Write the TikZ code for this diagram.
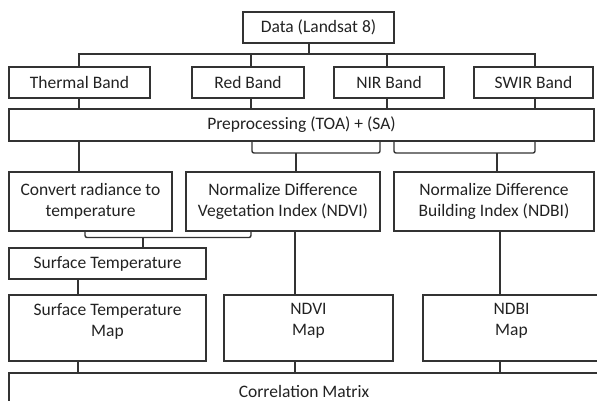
\documentclass[tikz,border=0pt]{standalone}
\usepackage{fontspec}
\setmainfont{Carlito}
\definecolor{linec}{HTML}{333333}
\definecolor{txt}{HTML}{222222}
\begin{document}
\begin{tikzpicture}[x=1pt,y=-1pt,
  box/.style={draw=linec, line width=1.4pt, text=txt, font=\fontsize{17.5}{21}\selectfont, align=center, inner sep=0pt, minimum height=31pt},
  conn/.style={draw=linec, line width=1.4pt},
  brk/.style={conn, rounded corners=2pt}]
\path[use as bounding box, clip] (0,0) rectangle (597,400);
% x positions and levels
\coordinate (a78) at (78,0);
\coordinate (a79) at (79,0);
\coordinate (a85) at (85,0);
\coordinate (a143) at (143,0);
\coordinate (a251) at (251,0);
\coordinate (a252) at (252,0);
\coordinate (a295) at (295,0);
\coordinate (a296) at (296,0);
\coordinate (a309) at (309,0);
\coordinate (a380) at (380,0);
\coordinate (a387) at (387,0);
\coordinate (a394) at (394,0);
\coordinate (a497) at (497,0);
\coordinate (a500) at (500,0);
\coordinate (a535) at (535,0);
\coordinate (bus) at (0,54);
\coordinate (b1) at (0,153);
\coordinate (b3) at (0,237.5);
% boxes
\node[box, minimum width=151pt] (data) at (318.5,27.5) {Data (Landsat 8)};
\node[box, minimum width=141pt] (thermal) at (79.5,82.5) {Thermal Band};
\node[box, minimum width=112pt] (red) at (248,82.5) {Red Band};
\node[box, minimum width=110pt] (nir) at (389,82.5) {NIR Band};
\node[box, minimum width=119pt] (swir) at (533.5,82.5) {SWIR Band};
\node[box, minimum width=585pt, minimum height=32pt] (pre) at (301.5,125) {Preprocessing (TOA) + (SA)};
\node[box, minimum width=163pt, minimum height=59pt] (conv) at (90.5,201.5) {Convert radiance to\\temperature};
\node[box, minimum width=194pt, minimum height=59pt] (ndvi) at (283,201.5) {Normalize Difference\\Vegetation Index (NDVI)};
\node[box, minimum width=200pt, minimum height=59pt] (ndbi) at (494,201.5) {Normalize Difference\\Building Index (NDBI)};
\node[box, minimum width=197pt] (st) at (107.5,263.5) {Surface Temperature};
\node[box, minimum width=197pt, minimum height=66pt, text depth=17pt] (stmap) at (107.5,328) {Surface Temperature\\Map};
\node[box, minimum width=169pt, minimum height=66pt, text depth=17pt] (ndvimap) at (308.5,328) {NDVI\\Map};
\node[box, minimum width=177pt, minimum height=66pt, text depth=17pt] (ndbimap) at (511.5,328) {NDBI\\Map};
\node[box, minimum width=590pt, minimum height=36pt] (corr) at (304,391) {Correlation Matrix};
% connectors: data to bands
\draw[conn] (data.south -| a309) -- (bus -| a309);
\draw[conn] (thermal.north -| a79) -- (bus -| a79) -- (bus -| a535) -- (swir.north -| a535);
\draw[conn] (bus -| a251) -- (red.north -| a251);
\draw[conn] (bus -| a387) -- (nir.north -| a387);
% bands to preprocessing
\draw[conn] (thermal.south -| a79) -- (pre.north -| a79);
\draw[conn] (red.south -| a251) -- (pre.north -| a251);
\draw[conn] (nir.south -| a387) -- (pre.north -| a387);
\draw[conn] (swir.south -| a535) -- (pre.north -| a535);
% preprocessing to indices
\draw[conn] (pre.south -| a79) -- (conv.north -| a79);
\draw[brk] (pre.south -| a252) -- (b1 -| a252) -- (b1 -| a380) -- (pre.south -| a380);
\draw[conn] (b1 -| a296) -- (ndvi.north -| a296);
\draw[brk] (pre.south -| a394) -- (b1 -| a394) -- (b1 -| a535) -- (pre.south -| a535);
\draw[conn] (b1 -| a497) -- (ndbi.north -| a497);
% conversion to surface temperature
\draw[brk] (conv.south -| a85) -- (b3 -| a85) -- (b3 -| a251) -- (ndvi.south -| a251);
\draw[conn] (b3 -| a143) -- (st.north -| a143);
\draw[conn] (st.south -| a78) -- (stmap.north -| a78);
\draw[conn] (ndvi.south -| a295) -- (ndvimap.north -| a295);
\draw[conn] (ndbi.south -| a500) -- (ndbimap.north -| a500);
% maps to correlation
\draw[conn] (stmap.south -| a78) -- (corr.north -| a78);
\draw[conn] (ndvimap.south -| a295) -- (corr.north -| a295);
\draw[conn] (ndbimap.south -| a500) -- (corr.north -| a500);
\end{tikzpicture}
\end{document}
